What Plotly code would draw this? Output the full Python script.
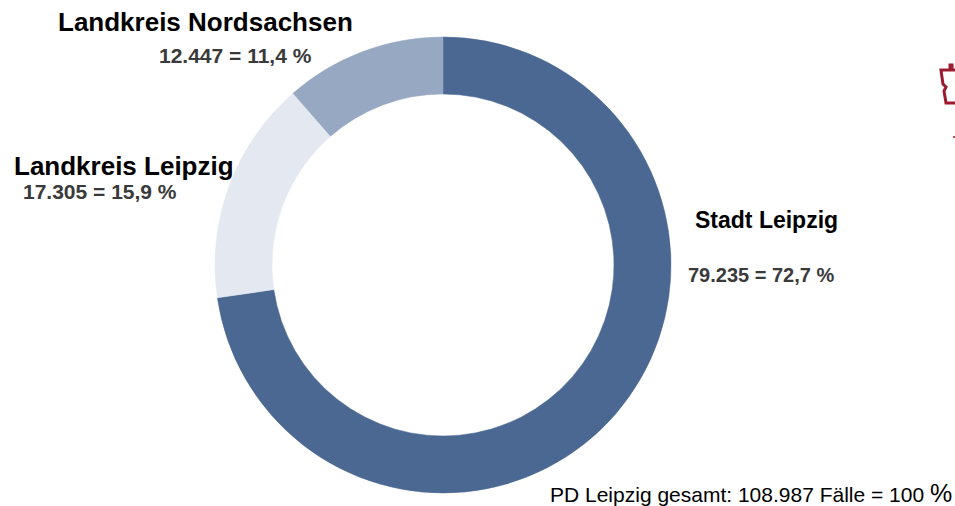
import plotly.graph_objects as go

W, H = 955, 506

categories = ["Stadt Leipzig", "Landkreis Leipzig", "Landkreis Nordsachsen"]
values = [79235, 17305, 12447]
value_labels = ["79.235 = 72,7 %", "17.305 = 15,9 %", "12.447 = 11,4 %"]
total_label = "PD Leipzig gesamt: 108.987 Fälle = 100"
colors = ["#4a6891", "#e4e8f0", "#97a8c2"]


def px(x):
    return x / W


def py(y):
    return 1 - y / H


cx, cy, r = 443, 265, 228

fig = go.Figure()
fig.add_trace(go.Pie(
    labels=categories,
    values=values,
    sort=False,
    direction="clockwise",
    rotation=0,
    hole=0.75,
    marker=dict(colors=colors, line=dict(color=colors, width=0.5)),
    textinfo="none",
    hoverinfo="label+value+percent",
    showlegend=False,
    domain=dict(x=[px(cx - r), px(cx + r)], y=[py(cy + r), py(cy - r)]),
))

font_family = "Liberation Sans, Arial, sans-serif"
anns = [
    # (text, x, y, size, color)
    (categories[2], 205, 22, 26, "#000000"),
    (value_labels[2], 235, 55, 21, "#3a3a3a"),
    (categories[1], 124, 166, 26, "#000000"),
    (value_labels[1], 100, 191, 21, "#3a3a3a"),
    (categories[0], 766, 220, 23, "#000000"),
    (value_labels[0], 761, 275, 20, "#3a3a3a"),
]
for text, x, y, size, color in anns:
    fig.add_annotation(
        x=px(x), y=py(y), xref="paper", yref="paper",
        text=f"<b>{text}</b>",
        showarrow=False, xanchor="center", yanchor="middle",
        font=dict(family=font_family, size=size, color=color),
    )

fig.add_annotation(
    x=px(954), y=py(493), xref="paper", yref="paper",
    text=total_label + ' <span style="font-size:25px">%</span>',
    showarrow=False, xanchor="right", yanchor="middle",
    font=dict(family=font_family, size=21, color="#000000"),
)

# decorative red map outline (partially cut at right edge)
pts = [(956, 70), (952, 70), (952, 65), (950, 65), (950, 70), (941, 70),
       (943, 84), (946, 87), (944, 91), (946, 103), (956, 103)]
path = "M " + " L ".join(f"{px(x):.4f} {py(y):.4f}" for x, y in pts)
fig.add_shape(type="path", path=path, xref="paper", yref="paper",
              line=dict(color="#9b1b30", width=3))
fig.add_shape(type="circle", xref="paper", yref="paper",
              x0=px(953), x1=px(955), y0=py(138), y1=py(136),
              fillcolor="#9b1b30", line=dict(width=0))

fig.update_layout(
    width=W, height=H,
    margin=dict(l=0, r=0, t=0, b=0),
    paper_bgcolor="white", plot_bgcolor="white",
)

fig.write_html(
    "out.html",
    config={"displayModeBar": False},
    post_script="document.body.style.margin='0';document.body.style.overflow='hidden';",
)
